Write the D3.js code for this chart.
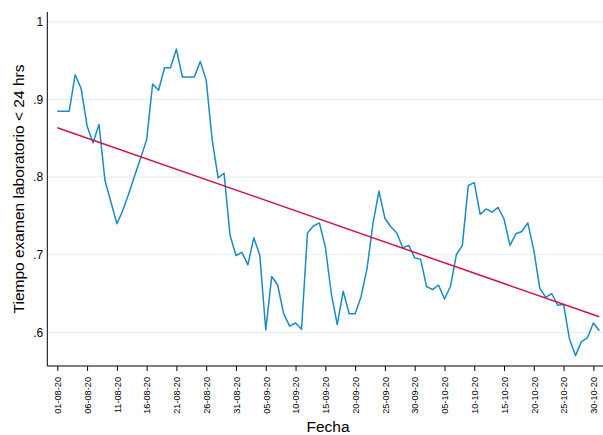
<!DOCTYPE html>
<html>
<head>
<meta charset="utf-8">
<script src="https://cdn.jsdelivr.net/npm/d3@7"></script>
<style>
  html, body { margin: 0; padding: 0; background: #fff; }
  svg { display: block; font-family: "Liberation Sans", Arial, Helvetica, sans-serif; }
</style>
</head>
<body>
<svg id="chart" width="603" height="435"></svg>
<script>
// ---- data ----
const startDate = "2020-08-01";
const values = [
  0.885, 0.885, 0.885, 0.932, 0.914, 0.866, 0.844, 0.868, 0.796, 0.768,
  0.740, 0.757, 0.779, 0.802, 0.825, 0.848, 0.920, 0.912, 0.941, 0.941,
  0.965, 0.929, 0.929, 0.929, 0.949, 0.925, 0.848, 0.799, 0.805, 0.725,
  0.699, 0.703, 0.687, 0.722, 0.699, 0.603, 0.672, 0.661, 0.624, 0.608,
  0.612, 0.604, 0.728, 0.737, 0.741, 0.710, 0.650, 0.610, 0.653, 0.624,
  0.624, 0.646, 0.682, 0.740, 0.782, 0.747, 0.736, 0.728, 0.709, 0.712,
  0.696, 0.694, 0.659, 0.655, 0.661, 0.643, 0.659, 0.700, 0.712, 0.789,
  0.793, 0.752, 0.759, 0.755, 0.761, 0.746, 0.712, 0.727, 0.730, 0.741,
  0.706, 0.657, 0.645, 0.650, 0.635, 0.636, 0.591, 0.570, 0.588, 0.593,
  0.612, 0.602
];
// fitted linear trend at first and last date
const fitValues = [0.8637, 0.620];
const xTickLabels = ["01-08-20","06-08-20","11-08-20","16-08-20","21-08-20","26-08-20",
  "31-08-20","05-09-20","10-09-20","15-09-20","20-09-20","25-09-20","30-09-20",
  "05-10-20","10-10-20","15-10-20","20-10-20","25-10-20","30-10-20"];
const yTickValues = [0.6, 0.7, 0.8, 0.9, 1];
const yTickLabels = [".6", ".7", ".8", ".9", "1"];
const xTitle = "Fecha";
const yTitle = "Tiempo examen laboratorio < 24 hrs";

// ---- build ----
const parseISO = d3.utcParse("%Y-%m-%d");
const parseTick = d3.utcParse("%d-%m-%y");
const fmtTick = d3.utcFormat("%d-%m-%y");
const t0 = parseISO(startDate);
const series = values.map((v, i) => ({ date: d3.utcDay.offset(t0, i), value: v }));
const tLast = series[series.length - 1].date;

const svg = d3.select("#chart");
const mLeft = 47.3, mRight = 601.7, mTop = 12, mBottom = 366;

const dayMs = 86400000;
const x = d3.scaleUtc()
  .domain([new Date(t0.getTime() - 1.68 * dayMs), new Date(tLast.getTime() + 0.4 * dayMs)])
  .range([mLeft, mRight]);
const y = d3.scaleLinear().domain([0.5566, 1.0128]).range([mBottom, mTop]);

// gridlines
svg.append("g")
  .selectAll("line").data(yTickValues).join("line")
  .attr("x1", mLeft).attr("x2", 603)
  .attr("y1", d => y(d)).attr("y2", d => y(d))
  .attr("stroke", "#e7eff1").attr("stroke-width", 1.2);

// y axis
const yAxis = d3.axisLeft(y).tickValues(yTickValues)
  .tickFormat((d, i) => yTickLabels[i]).tickSize(0).tickPadding(4);
const gy = svg.append("g").attr("transform", `translate(${mLeft},0)`).call(yAxis);
gy.select(".domain").attr("d", `M0,${mTop}V${mBottom}`).attr("stroke", "#000").attr("stroke-width", 1);
gy.selectAll("text").attr("font-size", 12).attr("fill", "#000")
  .attr("font-family", "Liberation Sans, Arial, sans-serif");

// x axis
const xTicks = xTickLabels.map(s => parseTick(s));
const xAxis = d3.axisBottom(x).tickValues(xTicks).tickFormat(fmtTick).tickSize(5).tickPadding(0);
const gx = svg.append("g").attr("transform", `translate(0,${mBottom})`).call(xAxis);
gx.select(".domain").attr("d", `M${mLeft},0H603`).attr("stroke", "#000").attr("stroke-width", 1);
gx.selectAll(".tick line").attr("stroke", "#000").attr("stroke-width", 1);
gx.selectAll("text")
  .attr("font-size", 9.2).attr("fill", "#000")
  .attr("font-family", "Liberation Sans, Arial, sans-serif")
  .attr("text-anchor", "end")
  .attr("transform", "translate(0,11) rotate(-90)")
  .attr("x", 0).attr("y", 0).attr("dy", "0.35em");

// data line
const line = d3.line().x(d => x(d.date)).y(d => y(d.value));
svg.append("path").datum(series)
  .attr("d", line).attr("fill", "none")
  .attr("stroke", "#1a8bc4").attr("stroke-width", 1.5).attr("stroke-linejoin", "round");

// fit line
const fit = [{ date: t0, value: fitValues[0] }, { date: tLast, value: fitValues[1] }];
svg.append("path").datum(fit)
  .attr("d", line).attr("fill", "none")
  .attr("stroke", "#d0164a").attr("stroke-width", 1.5);

// titles
svg.append("text").text(xTitle)
  .attr("x", 328).attr("y", 432).attr("text-anchor", "middle")
  .attr("font-size", 15.5).attr("fill", "#000");
svg.append("text").text(yTitle)
  .attr("transform", `translate(24,${(mTop + mBottom) / 2}) rotate(-90)`)
  .attr("text-anchor", "middle")
  .attr("font-size", 15.5).attr("fill", "#000");
</script>
</body>
</html>
